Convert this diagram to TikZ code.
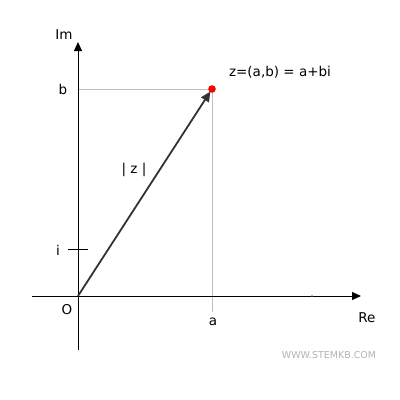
\documentclass[tikz,border=0pt]{standalone}
\usepackage{fontspec}
\setmainfont{DejaVu Sans}
\usetikzlibrary{arrows.meta, positioning}

\tikzset{
  axis/.style={line width=1pt, -{Triangle[length=9pt, width=8pt]}},
  guide/.style={draw=black!25, line width=0.7pt},
  lbl/.style={font=\fontsize{13.5}{15}\selectfont},
}

\begin{document}
\begin{tikzpicture}[x=1pt, y=-1pt]

  \useasboundingbox (0,0) rectangle (400,400);

  \coordinate (O) at (78,296);
  \coordinate (z) at (212,89);
  \coordinate (ia) at (68,249);
  \coordinate (ib) at (88,249);
  \coordinate (re0) at (32,296);
  \coordinate (re1) at (361,296);
  \coordinate (im0) at (78,350);
  \coordinate (im1) at (78,42);
  \coordinate (bleft) at (78,89);
  \coordinate (adown) at (212,312);

  \draw[guide] (bleft) -- (z);
  \draw[guide] (z) -- (adown);

  \draw[axis] (re0) -- (re1);
  \draw[axis] (im0) -- (im1);
  \draw[line width=1pt] (ia) -- (ib);
  \fill[black!60] (312,296) circle (0.9pt);

  \draw[line width=1.8pt, black!80, -{Triangle[length=10pt, width=9pt]}, shorten >=3pt] (O) -- (z);
  \fill[red] (z) circle (3.8pt);

  \node[lbl] (im) at (64,35) {Im};
  \node[lbl] (re) at (367,318) {Re};
  \node[lbl] (b) at (63,89) {b};
  \node[lbl] (i) at (58,250) {i};
  \node[lbl] (o) at (67,310) {O};
  \node[lbl] (a) at (213,322) {a};
  \node[lbl] (mod) at (134,170) {| z |};
  \node[lbl] (zlabel) at (280,72) {z=(a,b) = a+bi};
  \node[font=\fontsize{9.5}{11}\selectfont, text=black!30] (web) at (329,355) {WWW.STEMKB.COM};

\end{tikzpicture}
\end{document}
